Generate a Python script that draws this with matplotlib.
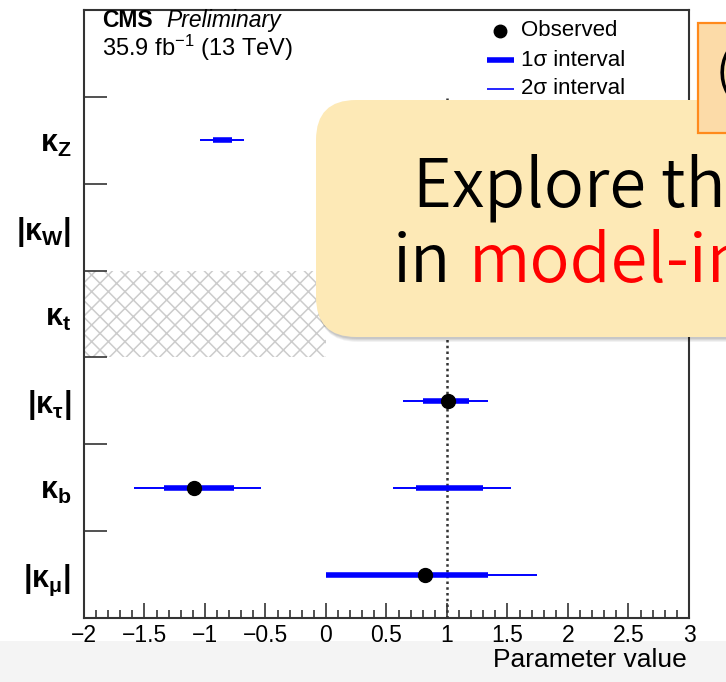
import numpy as np
import matplotlib
matplotlib.use("Agg")
import matplotlib.pyplot as plt
from matplotlib.patches import Rectangle, FancyBboxPatch
from matplotlib.lines import Line2D
import matplotlib.transforms as mtransforms

# ---------------- data ----------------
kappa_labels = ["|κ$_{\\mathregular{μ}}$|", "κ$_{\\mathregular{b}}$", "|κ$_{\\mathregular{τ}}$|",
                "κ$_{\\mathregular{t}}$", "|κ$_{\\mathregular{W}}$|", "κ$_{\\mathregular{Z}}$"]
observed = [0.82, -1.09, 1.01, np.nan, np.nan, np.nan]
sigma1_intervals = [[(0.00, 1.34)], [(-1.34, -0.76), (0.74, 1.30)], [(0.80, 1.18)], [], [], [(-0.93, -0.78)]]
sigma2_intervals = [[(0.00, 1.74)], [(-1.59, -0.54), (0.55, 1.53)], [(0.64, 1.34)], [], [], [(-1.04, -0.68)]]
kt_excluded = (-2.0, 0.0)
x_ticks = [-2, -1.5, -1, -0.5, 0, 0.5, 1, 1.5, 2, 2.5, 3]
x_ticklabels = ["−2", "−1.5", "−1", "−0.5", "0", "0.5", "1", "1.5", "2", "2.5", "3"]
sm_value = 1.0

# ---------------- figure ----------------
W, H = 726, 682
plt.rcParams["font.family"] = ["Liberation Sans", "DejaVu Sans"]
plt.rcParams["mathtext.default"] = "regular"
plt.rcParams["hatch.linewidth"] = 1.1
fig = plt.figure(figsize=(W / 100, H / 100), dpi=100)

def fx(px):
    return px / W

def fy(py):
    return 1 - py / H

ax = fig.add_axes([fx(84), fy(618), fx(689) - fx(84), fy(10) - fy(618)])
ax.set_xlim(-2, 3)
ax.set_ylim(0, 7)

ypos = np.arange(len(kappa_labels)) + 0.5

# hatched excluded region for kappa_t
ax.add_patch(Rectangle((kt_excluded[0], 3), kt_excluded[1] - kt_excluded[0], 1,
                       facecolor="none", edgecolor="#cccccc", linewidth=0, hatch="xx", zorder=1))

# SM reference line
ax.plot([sm_value, sm_value], [0, 6], color="#333333", lw=1.8, ls=(0, (1, 1.3)), zorder=2)

for y, s1, s2, obs in zip(ypos, sigma1_intervals, sigma2_intervals, observed):
    for lo, hi in s2:
        ax.plot([lo, hi], [y, y], color="#0000ff", lw=1.4, solid_capstyle="butt", zorder=3)
    for lo, hi in s1:
        ax.plot([lo, hi], [y, y], color="#0000ff", lw=4.0, solid_capstyle="butt", zorder=4)
    if not np.isnan(obs):
        ax.plot([obs], [y], "o", color="black", ms=10, zorder=5)

# axes styling
for sp in ax.spines.values():
    sp.set_color("#333333")
    sp.set_linewidth(1.5)
ax.set_xticks(x_ticks)
ax.set_xticklabels(x_ticklabels, fontsize=16.5)
ax.set_xticks(np.arange(-2, 3.001, 0.1), minor=True)
ax.tick_params(axis="x", which="major", direction="in", length=11, width=1.2, color="#333333", pad=4)
ax.tick_params(axis="x", which="minor", direction="in", length=5.5, width=1.2, color="#333333")
ax.set_yticks([1, 2, 3, 4, 5, 6])
ax.set_yticklabels([])
ax.set_yticks(ypos, minor=True)
ax.set_yticklabels(kappa_labels, minor=True, fontsize=22, fontweight="bold")
ax.tick_params(axis="y", which="major", direction="in", length=16.5, width=1.2, color="#333333")
ax.tick_params(axis="y", which="minor", length=0, pad=9)

# header texts
fig.text(fx(102), fy(27), "CMS", fontsize=16.5, fontweight="bold", va="baseline", ha="left")
fig.text(fx(166), fy(27), "Preliminary", fontsize=16.5, style="italic", va="baseline", ha="left")
fig.text(fx(102), fy(56), "35.9 fb$^{-1}$ (13 TeV)", fontsize=17, va="baseline", ha="left")

# legend (drawn manually)
ax.add_line(Line2D([fx(500)], [fy(31)], marker="o", color="black", ms=9, transform=fig.transFigure, ls="none"))
ax.add_line(Line2D([fx(487), fx(514)], [fy(60), fy(60)], color="#0000ff", lw=4, transform=fig.transFigure, solid_capstyle="butt"))
ax.add_line(Line2D([fx(487), fx(514)], [fy(89), fy(89)], color="#0000ff", lw=1.2, transform=fig.transFigure, solid_capstyle="butt"))
for ty, tx in [(31, "Observed"), (60, "1σ interval"), (89, "2σ interval")]:
    fig.text(fx(521), fy(ty), tx, fontsize=16, va="center", ha="left")

# x label
fig.text(fx(687), fy(660), "Parameter value", fontsize=19, va="center", ha="right")

# bottom grey strip of the slide
fig.patches.append(Rectangle((0, 0), 1, fy(641), transform=fig.transFigure,
                             facecolor="#f4f4f4", edgecolor="none", zorder=-5))

# ---------------- slide overlays ----------------
pix = mtransforms.IdentityTransform()
for i, a in enumerate([0.05, 0.05, 0.06, 0.07]):
    off = 5 - i
    fig.patches.append(FancyBboxPatch((316 + off * 0.4, H - 337 - off), 520, 237,
                                      boxstyle="round,pad=0,rounding_size=40", transform=pix,
                                      facecolor="black", alpha=a, edgecolor="none", zorder=8))
fig.patches.append(FancyBboxPatch((316, H - 337), 520, 237,
                                  boxstyle="round,pad=0,rounding_size=40", transform=pix,
                                  facecolor="#fde9b6", edgecolor="none", zorder=9))
slide_font = ["Noto Sans CJK JP", "DejaVu Sans"]
fig.text(fx(413), fy(207), "Explore th", fontsize=48, family=slide_font, fontweight=350,
         color="black", va="baseline", ha="left", zorder=10)
fig.text(fx(393), fy(282), "in", fontsize=48, family=slide_font, fontweight=350,
         color="black", va="baseline", ha="left", zorder=10)
fig.text(fx(469), fy(282), "model-in", fontsize=48, family=slide_font, fontweight=350,
         color="#ff0000", va="baseline", ha="left", zorder=10)

# orange box at top right
fig.patches.append(Rectangle((698, H - 133), 120, 110, transform=pix,
                             facecolor="#fcdba8", edgecolor="#ff8a1c", linewidth=1.6, zorder=11))
fig.text(fx(716), fy(74), "(", fontsize=34, family=slide_font,
         color="black", va="center", ha="left", zorder=12)

fig.savefig("out.png", dpi=100)
